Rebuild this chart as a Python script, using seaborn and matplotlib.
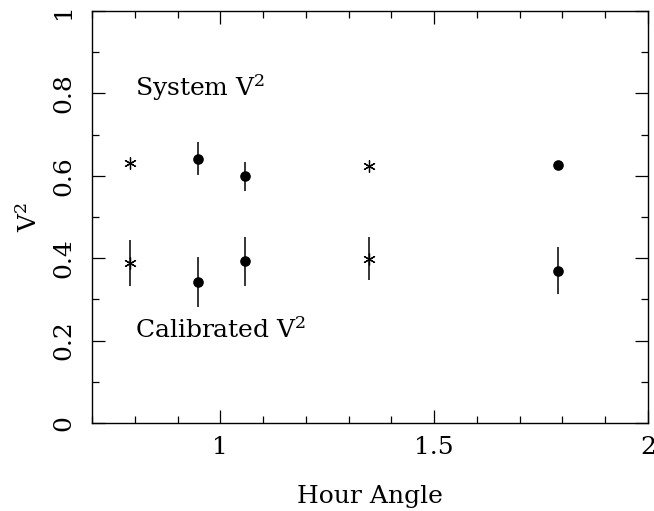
import seaborn as sns
import matplotlib.pyplot as plt
import pandas as pd
from matplotlib.ticker import MultipleLocator

# hour angle of each observation
hour_angle = [0.788, 0.948, 1.058, 1.348, 1.790]
# which star was observed (calibrator -> asterisk, target -> dot)
star_type = ["calibrator", "target", "target", "calibrator", "target"]
# raw system visibilities
system_v2 = [0.631, 0.641, 0.599, 0.624, 0.625]
system_err = [0.0, 0.040, 0.035, 0.0, 0.008]
# calibrated visibilities
calib_v2 = [0.388, 0.343, 0.392, 0.399, 0.369]
calib_err = [0.055, 0.061, 0.060, 0.053, 0.057]

x_ticks = [1, 1.5, 2]
y_ticks = [0, 0.2, 0.4, 0.6, 0.8, 1]

df = pd.DataFrame({
    "ha": hour_angle,
    "kind": star_type,
    "sys": system_v2,
    "sys_err": system_err,
    "cal": calib_v2,
    "cal_err": calib_err,
})

sns.set_theme(style="ticks")
plt.rcParams["font.family"] = ["DejaVu Serif"]
plt.rcParams["mathtext.fontset"] = "dejavuserif"
plt.rcParams["text.color"] = "black"
plt.rcParams["axes.labelcolor"] = "black"
plt.rcParams["xtick.color"] = "black"
plt.rcParams["ytick.color"] = "black"

fig = plt.figure(figsize=(6.54, 5.11), dpi=100)
ax = fig.add_axes([0.1407, 0.1722, 0.8501, 0.8063])

# error bars first, then markers on top
for col, err in [("sys", "sys_err"), ("cal", "cal_err")]:
    ax.errorbar(df["ha"], df[col], yerr=df[err], fmt="none",
                ecolor="black", elinewidth=1.1, capsize=0)

markers = {"calibrator": (6, 2, 0), "target": "o"}
sizes = {"calibrator": 70, "target": 45}
for kind, sub in df.groupby("kind"):
    for col in ["sys", "cal"]:
        sns.scatterplot(x=sub["ha"], y=sub[col], ax=ax, marker=markers[kind],
                        s=sizes[kind], color="black", edgecolor="black",
                        linewidth=0.9, legend=False, zorder=3)

ax.text(0.80, 0.813, "System V$^2$", fontsize=18, va="center", ha="left")
ax.text(0.80, 0.226, "Calibrated V$^2$", fontsize=18, va="center", ha="left")

ax.set_xlim(0.7, 2.0)
ax.set_ylim(0, 1)
ax.set_xticks(x_ticks)
ax.set_xticklabels(["1", "1.5", "2"])
ax.set_yticks(y_ticks)
ax.set_yticklabels(["0", "0.2", "0.4", "0.6", "0.8", "1"])
ax.xaxis.set_minor_locator(MultipleLocator(0.1))
ax.yaxis.set_minor_locator(MultipleLocator(0.1))

ax.tick_params(which="both", direction="in", top=True, right=True,
               color="black", labelcolor="black", width=0.9, labelsize=18)
ax.tick_params(which="major", length=9.5)
ax.tick_params(which="minor", length=5)
ax.tick_params(axis="x", pad=9)
ax.tick_params(axis="y", pad=12)
for t in ax.get_yticklabels():
    t.set_rotation(90)
    t.set_va("center")

for s in ax.spines.values():
    s.set_color("black")
    s.set_linewidth(1.0)

ax.set_xlabel("Hour Angle", fontsize=18, color="black")
ax.set_ylabel("V$^2$", fontsize=18, color="black")
ax.xaxis.set_label_coords(0.5, -0.15)
ax.yaxis.set_label_coords(-0.09, 0.5)

fig.savefig("out.png", dpi=100)
